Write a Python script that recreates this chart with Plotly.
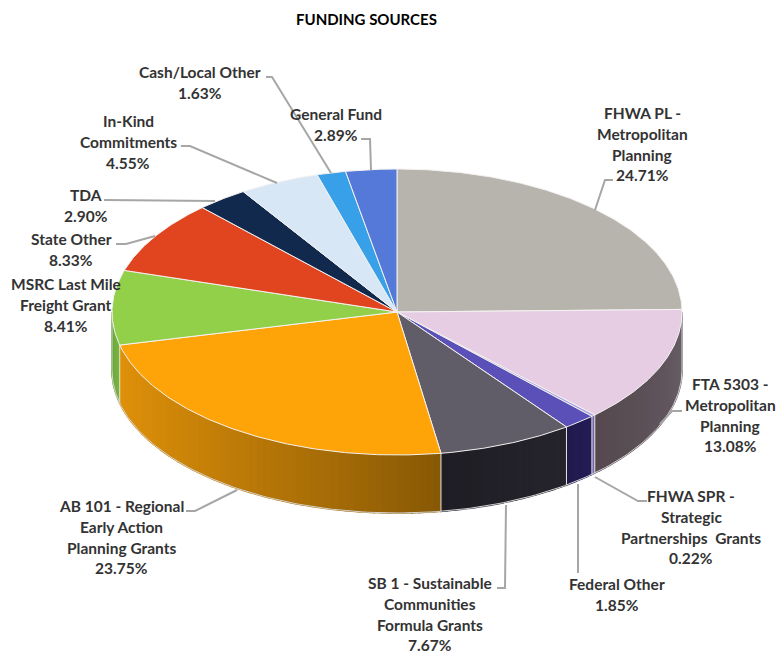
import numpy as np
import plotly.graph_objects as go

# ---- data ----
categories = ["FHWA PL - Metropolitan Planning", "FTA 5303 - Metropolitan Planning",
              "FHWA SPR - Strategic Partnerships Grants", "Federal Other",
              "SB 1 - Sustainable Communities Formula Grants",
              "AB 101 - Regional Early Action Planning Grants",
              "MSRC Last Mile Freight Grant", "State Other", "TDA",
              "In-Kind Commitments", "Cash/Local Other", "General Fund"]
shares = [24.71, 13.08, 0.22, 1.85, 7.67, 23.75, 8.41, 8.33, 2.90, 4.55, 1.63, 2.89]
label_lines = [["FHWA PL -", "Metropolitan", "Planning"], ["FTA 5303 -", "Metropolitan", "Planning"],
               ["FHWA SPR -", "Strategic", "Partnerships  Grants"], ["Federal Other"],
               ["SB 1 - Sustainable", "Communities", "Formula Grants"],
               ["AB 101 - Regional", "Early Action", "Planning Grants"],
               ["MSRC Last Mile", "Freight Grant"], ["State Other"], ["TDA"],
               ["In-Kind", "Commitments"], ["Cash/Local Other"], ["General Fund"]]

# ---- styling / layout ----
top_colors = ["#b6b4ac", "#e6cde4", "#a9a2e0", "#5b50b8", "#605d69", "#ffa408",
              "#92d04a", "#e0451f", "#10294d", "#d7e7f6", "#37a0e8", "#5579d8"]
wall_from = ["#8a8880", "#6a5f68", "#7068b0", "#241c58", "#25242c", "#de9009",
             "#78b440", "#b0361a", "#0a1a30", "#a0b0c0", "#2880c0", "#4060b0"]
wall_to = ["#5c525a", "#55494f", "#7068b0", "#201a4c", "#1f1d24", "#875805",
           "#68a43c", "#b0361a", "#0a1a30", "#a0b0c0", "#2880c0", "#4060b0"]
CX, CY, RX, RY, DEPTH = 397.0, 312.0, 285.0, 143.0, 58.0
label_pos = [(642, 113), (730, 384), (691, 496), (617, 584), (430, 583), (121, 506),
             (66, 284), (71, 239), (86, 195), (128, 121), (200, 72), (336, 114)]
LINE_H = 20.8
leaders = [
    [(613, 180), (605, 180), (595, 210)],
    [(682, 411), (672, 411), (660, 424)],
    [(647, 501), (638, 501), (595, 477)],
    [(578, 573), (578, 484)],
    [(497, 588), (505, 588), (506, 505)],
    [(186, 511), (195, 511), (237, 490)],
    [(116, 244), (126, 244), (155, 236)],
    [(104, 200), (215, 201)],
    [(181, 146), (190, 146), (277, 183)],
    [(266, 77), (272, 77), (331, 173)],
    [(361, 139), (370, 139), (371, 170)],
]


def mix(c1, c2, t):
    a = [int(c1[i:i + 2], 16) for i in (1, 3, 5)]
    b = [int(c2[i:i + 2], 16) for i in (1, 3, 5)]
    return "rgb(%d,%d,%d)" % tuple(round(p + (q - p) * t) for p, q in zip(a, b))


def rim(deg):
    r = np.radians(deg)
    return CX + RX * np.sin(r), CY - RY * np.cos(r)


total = sum(shares)
edges = np.concatenate([[0.0], np.cumsum(shares)]) / total * 360.0

fig = go.Figure()
n = len(shares)

# side walls, front half of the disc only, painted in short strips for the sheen
for i in range(n):
    a0, a1 = max(edges[i], 90.0), min(edges[i + 1], 270.0)
    if a1 <= a0:
        continue
    steps = max(2, int((a1 - a0) / 1.5) + 1)
    ts = np.linspace(a0, a1, steps + 1)
    for k in range(steps):
        arc = np.linspace(ts[k], ts[k + 1], 4)
        xs, ys = rim(arc)
        t = (k + 0.5) / steps
        if i == 5:  # the large slice sheen runs right-dark to left-bright
            t = (1 - t) ** 1.4
        col = mix(wall_from[i], wall_to[i], t)
        fig.add_trace(go.Scatter(
            x=np.concatenate([xs, xs[::-1]]),
            y=np.concatenate([ys, ys[::-1] + DEPTH]),
            mode="lines", fill="toself", fillcolor=col,
            line=dict(color=col, width=1.6), hoverinfo="skip", showlegend=False))

# light seams between neighbouring walls
for a in edges:
    if 90.0 <= a <= 270.0:
        x, y = rim(a)
        fig.add_trace(go.Scatter(x=[x, x], y=[y, y + DEPTH], mode="lines",
                                 line=dict(color="#e8e4dc", width=1),
                                 hoverinfo="skip", showlegend=False))

# lower outline of the wall
arc = np.linspace(90, 270, 181)
xs, ys = rim(arc)
fig.add_trace(go.Scatter(x=xs, y=ys + DEPTH, mode="lines", line=dict(color="#d4d4d4", width=1),
                         hoverinfo="skip", showlegend=False))
# left and right silhouette of the wall
for a in (90.0, 270.0):
    x, y = rim(a)
    fig.add_trace(go.Scatter(x=[x, x], y=[y, y + DEPTH], mode="lines",
                             line=dict(color="#d4d4d4", width=1),
                             hoverinfo="skip", showlegend=False))

# top faces
for i in range(n):
    arc = np.linspace(edges[i], edges[i + 1], max(3, int(edges[i + 1] - edges[i]) * 2 + 2))
    xs, ys = rim(arc)
    fig.add_trace(go.Scatter(
        x=np.concatenate([[CX], xs, [CX]]), y=np.concatenate([[CY], ys, [CY]]),
        mode="lines", fill="toself", fillcolor=top_colors[i],
        line=dict(color="#f4f2f0", width=1), name=categories[i],
        hovertemplate=categories[i] + ": %{text}<extra></extra>",
        text=[f"{shares[i]:.2f}%"] * (len(xs) + 2), showlegend=False))

# leader lines
for pts in leaders:
    fig.add_trace(go.Scatter(x=[p[0] for p in pts], y=[p[1] for p in pts], mode="lines",
                             line=dict(color="#a6a6a6", width=2),
                             hoverinfo="skip", showlegend=False))

# labels
anns = []
for i in range(n):
    lines = label_lines[i] + [f"{shares[i]:.2f}%"]
    x, y0 = label_pos[i]
    for j, t in enumerate(lines):
        anns.append(dict(x=x, y=y0 + j * LINE_H, text=t, xref="x", yref="y", showarrow=False,
                         xanchor="center", yanchor="middle",
                         font=dict(family="Lato", size=15.5, color="#333333", weight="bold")))
anns.append(dict(x=366, y=19, text="FUNDING SOURCES", xref="x", yref="y", showarrow=False,
                 xanchor="center", yanchor="middle",
                 font=dict(family="Lato", size=15, color="#000000", weight="bold")))

fig.update_layout(
    width=777, height=653, margin=dict(l=0, r=0, t=0, b=0),
    paper_bgcolor="white", plot_bgcolor="white", annotations=anns,
    xaxis=dict(range=[0, 777], visible=False, fixedrange=True),
    yaxis=dict(range=[653, 0], visible=False, fixedrange=True),
)
fig.write_html("out.html", config={"displayModeBar": False},
               post_script="document.body.style.margin='0';document.body.style.overflow='hidden';")
